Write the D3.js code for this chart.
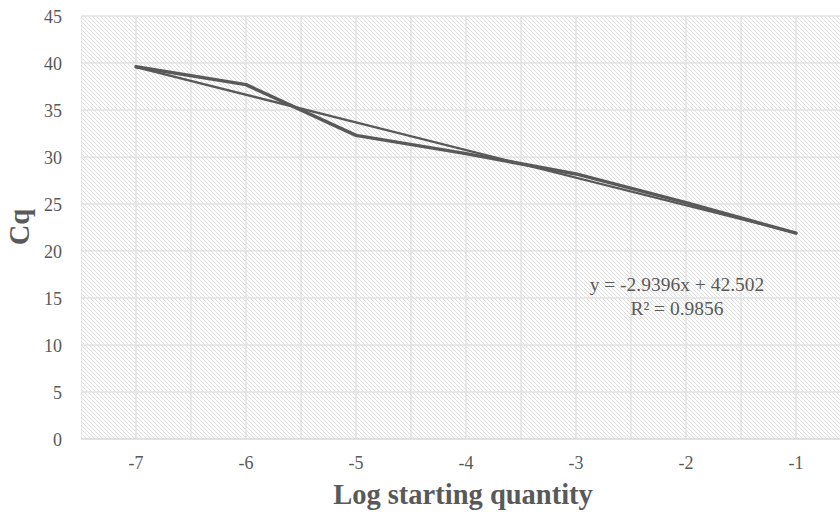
<!DOCTYPE html>
<html>
<head>
<meta charset="utf-8">
<script src="https://cdn.jsdelivr.net/npm/d3@7"></script>
<style>
  html, body { margin: 0; padding: 0; background: #fff; }
  svg { display: block; }
</style>
</head>
<body>
<svg id="chart" width="840" height="514"></svg>
<script>
// Standard curve: Cq against log starting quantity
const categories = ["-7", "-6", "-5", "-4", "-3", "-2", "-1"];
const cqValues = [39.6, 37.7, 32.3, 30.36, 28.2, 25.15, 21.9];
const yTicks = [0, 5, 10, 15, 20, 25, 30, 35, 40, 45];
const trendSlope = -2.9396;
const trendIntercept = 42.502;
const trendLabel = "y = -2.9396x + 42.502";
const r2Label = "R\u00B2 = 0.9856";

const svg = d3.select("#chart");
const plot = { left: 81, right: 851, top: 16, bottom: 439 };
const serif = "'Liberation Serif', 'Times New Roman', serif";
const ink = "#595959";

const x = d3.scaleBand().domain(categories).range([plot.left, plot.right]).padding(0);
const y = d3.scaleLinear().domain([0, 45]).range([plot.bottom, plot.top]);

// hatched plot background
const defs = svg.append("defs");
const pat = defs.append("pattern")
  .attr("id", "hatch").attr("patternUnits", "userSpaceOnUse")
  .attr("width", 4).attr("height", 4);
pat.append("rect").attr("width", 4).attr("height", 4).attr("fill", "#ffffff");
pat.append("path")
  .attr("d", "M-1,-1 L5,5 M-1,3 L1,5 M3,-1 L5,1")
  .attr("stroke", "#d8d8d8").attr("stroke-width", 0.85);

defs.append("clipPath").attr("id", "plotClip")
  .append("rect").attr("x", plot.left).attr("y", plot.top - 2)
  .attr("width", plot.right - plot.left).attr("height", plot.bottom - plot.top + 4);

svg.append("rect")
  .attr("x", plot.left).attr("y", plot.top)
  .attr("width", plot.right - plot.left).attr("height", plot.bottom - plot.top)
  .attr("fill", "url(#hatch)");

const grid = svg.append("g").attr("clip-path", "url(#plotClip)");

// horizontal gridlines
grid.selectAll("line.h").data(yTicks.filter(d => d > 0)).join("line")
  .attr("x1", plot.left).attr("x2", plot.right)
  .attr("y1", d => y(d)).attr("y2", d => y(d))
  .attr("stroke", "#e2e2e2").attr("stroke-width", 1.5);

// vertical gridlines at category edges and centres
const vPos = [];
categories.forEach(c => { vPos.push(x(c)); vPos.push(x(c) + x.bandwidth() / 2); });
vPos.push(x(categories[categories.length - 1]) + x.bandwidth());
grid.selectAll("line.v").data(vPos).join("line")
  .attr("x1", d => d).attr("x2", d => d)
  .attr("y1", plot.top).attr("y2", plot.bottom)
  .attr("stroke", "#e2e2e2").attr("stroke-width", 1.5);

// category axis line
svg.append("line")
  .attr("x1", plot.left).attr("x2", plot.right)
  .attr("y1", plot.bottom).attr("y2", plot.bottom)
  .attr("stroke", "#d9d9d9").attr("stroke-width", 1.5);

// y axis labels
const yAxis = d3.axisLeft(y).tickValues(yTicks).tickSize(0).tickPadding(0);
const gy = svg.append("g").attr("transform", `translate(${plot.left - 19},0)`).call(yAxis);
gy.select(".domain").remove();
gy.selectAll("text")
  .attr("font-family", serif).attr("font-size", 18).attr("fill", ink)
  .attr("dy", "0.34em");

// x axis labels
const xAxis = d3.axisBottom(x).tickSize(0).tickPadding(0);
const gx = svg.append("g").attr("transform", `translate(0,${plot.bottom})`).call(xAxis);
gx.select(".domain").remove();
gx.selectAll("text")
  .attr("font-family", serif).attr("font-size", 18).attr("fill", ink)
  .attr("y", 30).attr("dy", 0);

const cx = c => x(c) + x.bandwidth() / 2;

// measured series
const line = d3.line().x(d => cx(d.c)).y(d => y(d.v));
const series = categories.map((c, i) => ({ c, v: cqValues[i] }));
svg.append("path").datum(series)
  .attr("d", line).attr("fill", "none")
  .attr("stroke", ink).attr("stroke-width", 3.5)
  .attr("stroke-linejoin", "round").attr("stroke-linecap", "round");

// linear trendline (x = category index, 1-based)
const trend = [1, categories.length].map(i => ({ c: categories[i - 1], v: trendSlope * i + trendIntercept }));
svg.append("path").datum(trend)
  .attr("d", line).attr("fill", "none")
  .attr("stroke", ink).attr("stroke-width", 2.25);

// trendline equation
const eq = svg.append("g").attr("font-family", serif).attr("font-size", 19.5)
  .attr("fill", ink).attr("text-anchor", "middle");
eq.append("text").attr("x", 677).attr("y", 291).text(trendLabel);
eq.append("text").attr("x", 677).attr("y", 315).text(r2Label);

// axis titles
svg.append("text")
  .attr("x", 463).attr("y", 504)
  .attr("text-anchor", "middle")
  .attr("font-family", serif).attr("font-size", 28.5).attr("font-weight", "bold")
  .attr("fill", ink).text("Log starting quantity");

svg.append("text")
  .attr("transform", "translate(29,227) rotate(-90)")
  .attr("text-anchor", "middle")
  .attr("font-family", serif).attr("font-size", 28.5).attr("font-weight", "bold")
  .attr("fill", ink).text("Cq");
</script>
</body>
</html>
